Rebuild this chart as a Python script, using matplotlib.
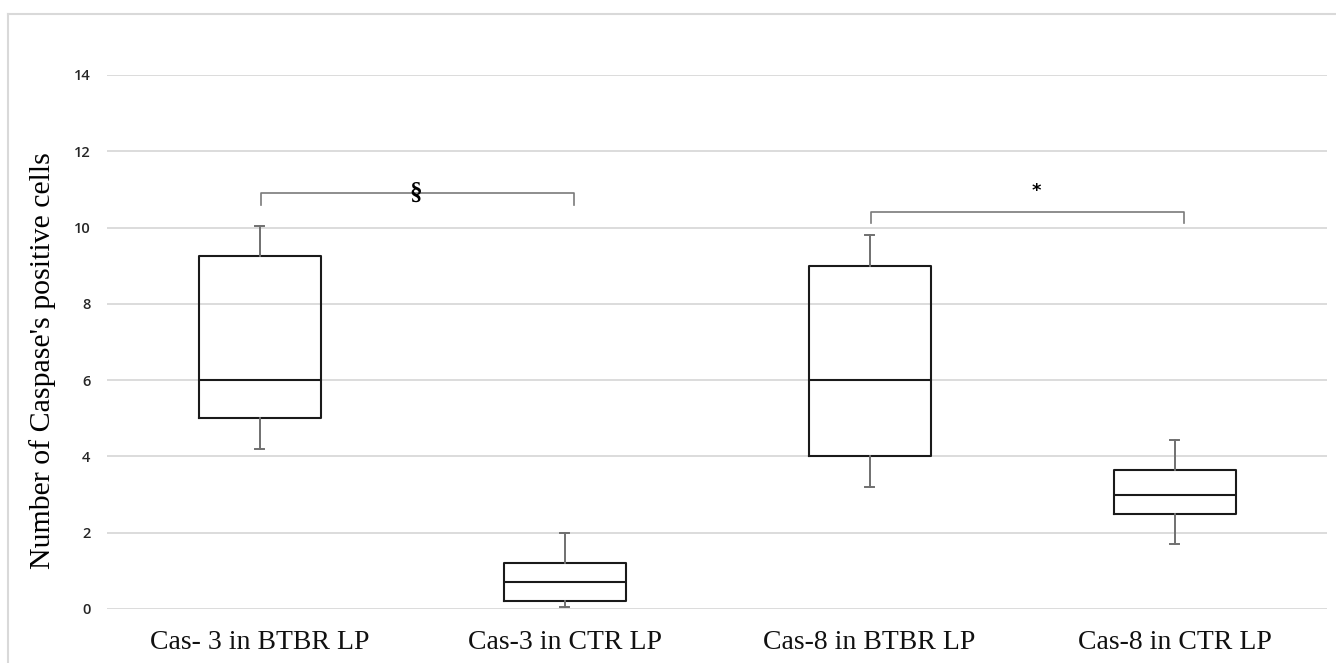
import matplotlib
matplotlib.use("Agg")
import matplotlib.pyplot as plt
from matplotlib.lines import Line2D

categories = ["Cas- 3 in BTBR LP", "Cas-3 in CTR LP", "Cas-8 in BTBR LP", "Cas-8 in CTR LP"]
whislo = [4.2, 0.05, 3.2, 1.7]
q1 = [5.0, 0.2, 4.0, 2.5]
med = [6.0, 0.7, 6.0, 3.0]
q3 = [9.25, 1.2, 9.0, 3.65]
whishi = [10.05, 2.0, 9.8, 4.42]
yticks = [0, 2, 4, 6, 8, 10, 12, 14]

# significance brackets: (start category, end category, height, label)
brackets = [(0, 1, 10.9, "§"), (2, 3, 10.42, "*")]

W, H = 1336, 663
fig = plt.figure(figsize=(W / 100, H / 100), dpi=100)
ax = fig.add_axes([107 / W, (663 - 609) / H, (1327 - 107) / W, (609 - 75) / H])

stats = []
for i, c in enumerate(categories):
    stats.append(dict(label=c, whislo=whislo[i], q1=q1[i], med=med[i], q3=q3[i], whishi=whishi[i], fliers=[]))

pos = [i + 0.5 for i in range(len(categories))]
ax.bxp(stats, positions=pos, widths=0.4, showfliers=False, patch_artist=False,
       boxprops=dict(color="#1a1a1a", linewidth=1.5),
       medianprops=dict(color="#1a1a1a", linewidth=1.5),
       whiskerprops=dict(color="#707070", linewidth=1.4),
       capprops=dict(color="#707070", linewidth=1.4),
       capwidths=0.028, zorder=3)

ax.set_xlim(0, len(categories))
ax.set_ylim(0, 14)
ax.set_yticks(yticks)
ax.set_yticklabels([str(v) for v in yticks], fontfamily="Open Sans", fontsize=10.5,
                   fontweight="semibold", color="#262626")
ax.set_xticks(pos)
ax.set_xticklabels(categories, fontfamily="Liberation Serif", fontsize=20, color="#111111")
ax.tick_params(axis="both", length=0)
ax.tick_params(axis="y", pad=12)
ax.tick_params(axis="x", pad=15)
ax.grid(axis="y", color="#d9d9d9", linewidth=1.3, zorder=0)
ax.set_axisbelow(True)
for s in ax.spines.values():
    s.set_visible(False)

ax.set_ylabel("Number of Caspase's positive cells", fontfamily="Liberation Serif", fontsize=21.5)
ax.yaxis.set_label_coords(-0.042, 0.466)

for a, b, h, lab in brackets:
    xa, xb = pos[a] + 0.005, pos[b] + 0.03
    ax.plot([xa, xa, xb, xb], [h - 0.3, h, h, h - 0.3], color="#7a7a7a", linewidth=1.2, zorder=4)
    xm = (xa + xb) / 2
    if lab == "§":
        ax.text(xm - 0.005, h, lab, ha="center", va="center", fontfamily="Liberation Serif",
                fontsize=18, fontweight="bold", zorder=5)
    else:
        ax.text(xm + 0.03, h + 0.55, lab, ha="center", va="center", fontfamily="DejaVu Sans",
                fontsize=13, fontweight="bold", zorder=5)

# outer chart border
fig.add_artist(Line2D([8 / W, 8 / W], [0, (663 - 14) / H], color="#d9d9d9", linewidth=1.5, transform=fig.transFigure))
fig.add_artist(Line2D([8 / W, 1], [(663 - 14) / H, (663 - 14) / H], color="#d9d9d9", linewidth=1.5, transform=fig.transFigure))

fig.savefig("out.png", dpi=100)
